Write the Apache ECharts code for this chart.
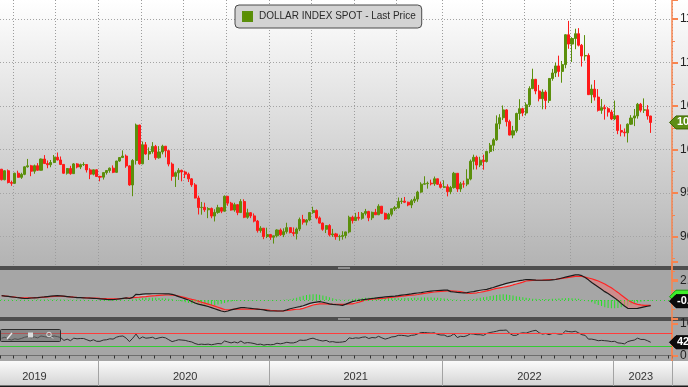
<!DOCTYPE html>
<html><head><meta charset="utf-8">
<style>html,body{margin:0;padding:0;background:#fff;}#c{width:688px;height:387px;}</style>
<script src="https://cdn.jsdelivr.net/npm/echarts/dist/echarts.min.js"></script>
</head><body><div id="c"></div>
<script>
// ---------------- data ----------------
const seriesName = 'DOLLAR INDEX SPOT - Last Price';
const firstWeek = [2019, 5, 7];       // first weekly bar (Fri 7 Jun 2019)
const weeksOnAxis = 205;              // 199 bars + empty weeks to the right edge
const yearLabelDates = ['2019-08-16','2020-07-03','2021-07-02','2022-07-08','2023-03-03'];

const openP = [
97.75,96.54,97.57,96.22,96.13,97.29,96.82,97.16,98.02,98.14,97.52,98.15,97.63,98.92,98.40,98.26,98.52,99.13,98.81,98.30,97.29,97.83,97.24,98.36,98.00,98.27,98.29,97.67,97.18,97.68,
96.92,96.84,97.36,97.60,97.87,97.39,98.69,99.09,99.26,98.13,95.94,98.75,102.82,98.37,100.55,99.50,99.78,100.37,99.06,99.73,100.39,99.87,98.34,96.93,97.34,97.62,97.43,97.18,96.64,95.95,94.44,93.35,93.38,93.09,93.24,92.37,92.79,93.33,92.93,94.64,93.85,93.06,93.68,92.77,94.04,92.23,92.75,92.39,91.79,90.70,90.98,90.02,
90.24,89.94,90.10,90.77,90.23,90.58,91.04,90.48,90.36,90.88,91.98,91.67,91.92,92.77,93.01,92.16,91.56,90.85,91.28,90.22,90.32,90.01,90.03,90.13,90.55,92.23,91.85,92.23,92.12,92.68,92.90,92.17,92.80,92.52,93.50,92.68,92.03,92.58,93.20,93.33,94.04,94.08,93.96,93.64,94.12,94.32,95.12,96.03,96.09,96.14,96.07,96.65,96.02,
95.67,95.73,95.17,95.64,97.28,95.48,96.07,96.04,96.62,98.66,99.12,98.23,98.79,98.63,99.79,100.50,101.12,102.96,103.66,104.56,103.21,101.67,102.16,104.15,104.70,104.20,105.14,107.01,108.07,106.73,105.85,106.61,105.65,108.17,108.80,109.61,108.98,109.76,113.19,112.12,112.76,113.31,111.99,110.75,110.81,106.31,106.95,106.03,104.51,104.82,104.70,104.31,
103.52,103.89,102.20,102.01,101.93,102.92,103.63,103.87,105.21,104.52,104.58,103.86];
const highP = [
97.78,97.61,97.72,96.44,97.34,97.58,97.34,98.07,98.93,98.25,98.28,98.45,98.97,99.37,98.75,98.81,99.38,99.67,99.21,98.33,97.89,98.14,98.45,98.45,98.39,98.55,98.34,97.86,97.71,97.73,
96.99,97.39,97.66,97.94,98.19,98.71,99.13,99.91,99.44,98.20,98.91,102.99,102.86,100.93,100.87,100.25,100.86,100.54,100.40,100.56,100.41,99.97,98.53,97.48,97.87,97.70,97.58,97.36,96.73,96.15,94.71,93.99,93.91,93.39,93.35,93.15,93.66,93.41,94.74,94.65,94.00,93.90,93.74,94.31,94.30,93.21,92.82,92.67,91.92,91.21,91.00,91.03,
90.32,90.11,90.85,90.95,90.96,91.60,91.06,91.06,91.05,92.20,92.51,92.02,92.84,93.44,93.12,92.33,91.63,91.30,91.44,90.90,90.44,90.23,90.63,90.58,92.41,92.41,92.74,92.84,92.83,93.19,92.97,92.88,93.19,93.73,93.50,92.77,92.74,93.22,93.53,94.50,94.45,94.56,94.02,94.31,94.63,95.27,96.25,96.94,96.33,96.55,96.91,96.66,96.33,
96.47,96.02,95.83,97.44,97.30,96.29,96.43,97.74,98.86,99.42,99.31,99.18,99.42,99.87,100.76,101.31,103.93,104.07,105.07,104.65,103.43,102.73,104.24,105.79,104.81,105.42,107.27,109.29,108.12,107.43,106.93,106.81,108.19,109.27,109.99,110.79,110.18,113.24,114.78,112.91,113.88,113.95,112.13,113.15,111.05,107.47,107.99,106.95,105.81,105.15,104.88,104.57,
105.63,103.95,102.90,102.43,103.01,103.96,104.67,105.36,105.36,105.88,105.11,103.88];
const lowP = [
96.46,96.48,96.12,95.84,96.05,96.79,96.64,97.06,97.93,96.95,97.23,97.57,97.60,98.35,97.86,97.98,98.45,98.77,98.23,97.22,97.13,97.12,97.21,97.85,97.76,98.12,97.37,96.61,97.05,96.85,
96.36,96.56,97.13,97.35,97.30,97.36,98.61,99.07,97.91,95.85,94.65,98.28,98.27,98.32,99.41,98.81,99.54,98.83,98.96,99.46,99.11,98.08,96.43,95.71,96.52,96.36,96.73,96.28,95.72,94.40,92.55,92.53,92.85,92.13,92.12,91.75,92.63,92.70,92.88,93.55,92.99,92.87,92.47,92.73,92.13,92.06,92.13,91.65,90.47,90.46,89.72,89.84,
89.63,89.21,89.92,90.09,89.95,90.35,90.38,90.05,89.68,90.64,91.39,91.30,91.78,92.63,92.00,91.50,90.68,90.42,90.03,89.98,89.65,89.53,89.66,89.81,90.39,91.51,91.80,91.86,91.95,92.45,91.78,91.91,92.49,92.48,92.60,91.94,91.99,92.34,92.95,93.23,93.76,93.86,93.50,93.28,93.87,94.01,95.03,95.98,95.52,95.89,95.84,95.95,95.54,
95.58,94.63,94.88,95.52,95.14,95.14,95.62,95.80,96.47,97.71,97.72,97.99,97.69,98.52,99.58,99.82,101.01,102.35,103.39,102.66,101.64,101.30,101.94,103.41,103.83,103.91,104.89,106.94,106.36,105.54,104.63,104.64,105.36,107.91,108.33,108.36,107.68,109.34,111.58,110.06,111.53,111.85,109.54,110.21,106.27,105.34,105.63,104.37,104.11,103.44,103.79,103.39,
103.39,101.77,101.53,101.50,100.82,102.84,102.70,103.56,104.28,104.21,103.44,101.92];
const closeP = [
96.54,97.57,96.22,96.13,97.29,96.82,97.16,98.02,98.14,97.52,98.15,97.63,98.92,98.40,98.26,98.52,99.13,98.81,98.30,97.29,97.83,97.24,98.36,98.00,98.27,98.29,97.67,97.18,97.68,96.92,
96.84,97.36,97.60,97.87,97.39,98.69,99.09,99.26,98.13,95.94,98.75,102.82,98.37,100.55,99.50,99.78,100.37,99.06,99.73,100.39,99.87,98.34,96.93,97.34,97.62,97.43,97.18,96.64,95.95,94.44,93.35,93.38,93.09,93.24,92.37,92.79,93.33,92.93,94.64,93.85,93.06,93.68,92.77,94.04,92.23,92.75,92.39,91.79,90.70,90.98,90.02,90.24,
89.94,90.10,90.77,90.23,90.58,91.04,90.48,90.36,90.88,91.98,91.67,91.92,92.77,93.01,92.16,91.56,90.85,91.28,90.22,90.32,90.01,90.03,90.13,90.55,92.23,91.85,92.23,92.12,92.68,92.90,92.17,92.80,92.52,93.50,92.68,92.03,92.58,93.20,93.33,94.04,94.08,93.96,93.64,94.12,94.32,95.12,96.03,96.09,96.14,96.07,96.65,96.02,95.67,
95.73,95.17,95.64,97.28,95.48,96.07,96.04,96.62,98.66,99.12,98.23,98.79,98.63,99.79,100.50,101.12,102.96,103.66,104.56,103.21,101.67,102.16,104.15,104.70,104.20,105.14,107.01,108.07,106.73,105.85,106.61,105.65,108.17,108.80,109.61,108.98,109.76,113.19,112.12,112.76,113.31,111.99,110.75,110.81,106.31,106.95,106.03,104.51,104.82,104.70,104.31,103.52,
103.89,102.20,102.01,101.93,102.92,103.63,103.87,105.21,104.52,104.58,103.86,103.12];

const macdLine = [
0.57,0.52,0.47,0.42,0.36,0.30, 0.25,0.20,0.22,0.26,0.29,0.32, 0.36,0.40,0.45,0.50,0.55,0.57, 0.55,0.50,0.45,0.40,0.36,0.32,
0.30,0.28,0.26,0.24,0.22,0.20, 0.16,0.12,0.08,0.05,0.04,0.10, 0.16,0.22,0.28,0.20,0.35,0.75, 0.70,0.78,0.80,0.80,0.82,0.82,
0.82,0.82,0.80,0.80,0.75,0.60, 0.45,0.30,0.15,0.00,-0.20,-0.40, -0.55,-0.65,-0.75,-0.85,-1.00,-1.15, -1.30,-1.45,-1.55,-1.45,-1.30,-1.20,
-1.10,-1.00,-1.00,-1.05,-1.10,-1.15, -1.20,-1.25,-1.30,-1.40,-1.45,-1.45, -1.45,-1.45,-1.42,-1.30,-1.15,-1.05, -0.95,-0.88,-0.75,-0.60,-0.45,-0.35,
-0.28,-0.22,-0.30,-0.40,-0.50,-0.57, -0.62,-0.66,-0.70,-0.55,-0.38,-0.22, -0.12,-0.05,0.02,0.09,0.14,0.20, 0.25,0.30,0.35,0.40,0.44,0.48,
0.52,0.57,0.63,0.69,0.75,0.80, 0.86,0.92,0.98,1.05,1.12,1.18, 1.22,1.25,1.27,1.29,1.30,1.10, 1.05,1.00,0.97,0.95,0.98,1.05,
1.10,1.20,1.28,1.35,1.40,1.52, 1.65,1.80,1.93,2.05,2.18,2.28, 2.38,2.47,2.55,2.62,2.70,2.68, 2.65,2.62,2.60,2.60,2.60,2.60,
2.65,2.70,2.80,2.90,3.00,3.10, 3.20,3.30,3.30,3.20,2.95,2.65, 2.30,2.00,1.70,1.40,1.10,0.85, 0.57,0.25,-0.05,-0.44,-0.80,-1.10,
-1.12,-1.12,-1.10,-1.00,-0.90,-0.82,-0.75];
const signalLine = [
0.57,0.53,0.48,0.43,0.38,0.33, 0.30,0.28,0.28,0.29,0.30,0.32, 0.35,0.38,0.42,0.45,0.48,0.50, 0.50,0.48,0.45,0.42,0.38,0.35,
0.33,0.31,0.29,0.27,0.26,0.25, 0.22,0.20,0.17,0.15,0.14,0.15, 0.17,0.20,0.24,0.25,0.30,0.35, 0.38,0.42,0.45,0.50,0.55,0.58,
0.62,0.65,0.66,0.66,0.64,0.60, 0.52,0.42,0.32,0.20,0.08,0.00, -0.15,-0.30,-0.42,-0.55,-0.66,-0.80, -0.95,-1.10,-1.25,-1.28,-1.25,-1.20,
-1.20,-1.20,-1.20,-1.20,-1.20,-1.20, -1.20,-1.22,-1.25,-1.30,-1.35,-1.38, -1.42,-1.45,-1.42,-1.38,-1.32,-1.26, -1.22,-1.20,-1.10,-0.95,-0.80,-0.66,
-0.58,-0.50,-0.50,-0.52,-0.55,-0.57, -0.57,-0.57,-0.57,-0.55,-0.52,-0.50, -0.40,-0.28,-0.15,0.00,0.05,0.10, 0.14,0.18,0.20,0.25,0.30,0.35,
0.40,0.45,0.50,0.55,0.60,0.63, 0.66,0.72,0.80,0.87,0.94,1.00, 1.05,1.10,1.14,1.17,1.20,1.20, 1.18,1.15,1.10,1.00,0.90,0.88,
0.90,0.95,1.02,1.10,1.20,1.30, 1.42,1.52,1.60,1.68,1.76,1.85, 1.98,2.10,2.22,2.35,2.50,2.55, 2.58,2.60,2.60,2.62,2.65,2.68,
2.70,2.73,2.78,2.85,2.90,2.98, 3.05,3.10,3.12,3.10,3.00,2.90, 2.80,2.65,2.50,2.30,2.10,1.85, 1.60,1.30,1.00,0.66,0.33,0.00,
-0.25,-0.45,-0.57,-0.65,-0.70,-0.70,-0.70];
const macdHist = [
0.05,0.04,0.04,0.03,0.03,0.03,0.02,0.02,0.03,0.03,0.04,0.05,0.05,0.06,0.06,0.07,0.07,0.07,0.06,0.05,0.04,0.03,0.02,0.02,0.02,0.02,0.01,0.01,0.01,0.00,-0.02,-0.03,-0.03,-0.02,-0.01,0.00,0.01,0.02,0.03,0.02,0.05,
0.15,0.20,0.25,0.28,0.30,0.30,0.28,0.25,0.22,0.20,0.18,0.14,
0.00,-0.10,-0.20,-0.30,-0.38,-0.45,-0.50,-0.55,-0.60,-0.65,-0.70,-0.70,-0.68,-0.60,-0.50,-0.40,
-0.30,-0.20,-0.12,-0.06,-0.03,-0.02,-0.02,-0.03,-0.03,-0.02,-0.02,-0.02,-0.03,-0.03,-0.02,-0.01,0.00,0.02,0.05,0.10,0.20,
0.30,0.42,0.55,0.65,0.72,0.75,0.75,0.70,0.60,0.48,0.35,0.22,0.12,0.05,0.02,0.02,0.05,
0.10,0.15,0.20,0.25,0.28,0.30,0.32,0.33,0.33,0.32,0.30,0.28,0.26,0.25,0.24,0.24,0.25,0.26,0.27,0.28,0.30,0.32,0.33,0.33,0.32,0.30,0.28,0.25,0.20,0.15,0.10,
0.05,0.02,0.00,-0.02,0.00,0.05,
0.12,0.20,0.28,0.36,0.44,0.52,0.60,0.66,0.72,0.75,0.72,0.66,0.58,0.50,0.42,0.35,0.28,
0.22,0.18,0.15,0.13,0.12,0.12,0.13,0.15,0.18,0.20,0.22,0.24,0.25,0.24,0.20,0.15,0.08,0.00,
-0.15,-0.30,-0.48,-0.65,-0.80,-0.95,-1.05,-1.10,-1.10,-1.05,-0.95,-0.85,-0.72,-0.58,-0.45,-0.32,-0.22,-0.15,-0.10,-0.06];
const rsiLine = [
55,58,52,49,53,51,54,58,60,56,59,56,62,60,58,59,62,60,
57,48,52,47,55,53,54,54,50,46,50,45,
45,49,50,53,52,58,61,62,55,44,55,68,
53,59,55,56,58,53,56,58,56,50,44,47,
50,49,48,45,43,38,35,36,35,36,34,36,
38,37,46,43,40,43,40,46,39,41,40,38,
35,36,33,35,34,35,39,37,39,42,40,40,
43,49,48,49,53,55,51,48,46,48,43,44,
42,42,43,45,56,54,56,55,58,59,54,57,
56,61,56,52,55,59,60,64,64,63,61,64,
65,69,73,73,72,71,72,67,65,65,60,62,
69,57,61,60,63,69,68,66,66,64,70,73,
75,77,80,80,81,70,64,64,70,72,71,75,
78,80,72,68,70,66,70,70,68,68,78,76,
75,77,72,66,64,52,52,50,47,48,47,46,
44,45,40,39,37,44,47,49,55,51,51,47,42];
const rsiLevels = {overbought: 70, oversold: 30};

// ---------------- build ----------------
const dates = [];
for (let i = 0; i < weeksOnAxis; i++) {
  const d = new Date(Date.UTC(firstWeek[0], firstWeek[1], firstWeek[2]) + i * 7 * 86400000);
  dates.push(d.toISOString().slice(0, 10));
}
const dp = s => s.split('-').map(Number);
const isMonthStart = s => dp(s)[2] <= 7;
const isQuarterStart = s => { const p = dp(s); return p[2] <= 7 && (p[1] - 1) % 3 === 0; };
const isYearStart = s => { const p = dp(s); return p[1] === 1 && p[2] <= 7; };

const candles = closeP.map((c, i) => [openP[i], c, lowP[i], highP[i]]);
const pinkGap = macdLine.map((m, i) => Math.max(signalLine[i] - m, 0));
const greyGap = macdLine.map((m, i) => Math.max(m - signalLine[i], 0));

const FONT = 'Liberation Sans, Arial, sans-serif';
const ORANGE = '#f7844f';
const UP = '#5b8f0c', DOWN = '#ff1a1a';

const chart = echarts.init(document.getElementById('c'), null, {renderer: 'canvas'});
const grad = (a, b) => new echarts.graphic.LinearGradient(0, 0, 0, 1, [{offset: 0, color: a}, {offset: 1, color: b}]);

const axisY = (extra) => Object.assign({
  type: 'value', position: 'right',
  axisLine: {show: true, lineStyle: {color: ORANGE, width: 1.5}},
  axisTick: {show: true, length: 6, lineStyle: {color: ORANGE, width: 2}},
  minorTick: {show: true, splitNumber: 2, length: 3, lineStyle: {color: ORANGE, width: 1}},
  axisLabel: {color: '#222', fontSize: 12, fontFamily: FONT, margin: 8},
  splitLine: {show: false}
}, extra);

const hiddenX = (gi) => ({type: 'category', gridIndex: gi, data: dates, boundaryGap: true, show: false});
const G = (top, height) => ({left: 0, width: 672, top: top, height: height, outerBoundsMode: 'none', containLabel: false});

const option = {
  animation: false,
  backgroundColor: '#ffffff',
  textStyle: {fontFamily: FONT},
  grid: [
    G(0, 280.24),     // price scale 85..117.18
    G(0, 266),        // vertical gridlines of price panel
    G(262, 57),       // MACD scale -2.5..5
    G(324, 31.5),     // RSI 0..100
    G(361, 25)        // year labels strip
  ],
  legend: {
    data: [{name: seriesName, icon: 'rect', itemStyle: {color: '#5a8f00'}}],
    left: 235, top: 5, itemWidth: 9, itemHeight: 9, itemGap: 0,
    padding: [6, 6, 6, 7], borderColor: '#4a4a4a', borderWidth: 1, borderRadius: 4,
    backgroundColor: '#d3d3d3', selectedMode: false,
    textStyle: {fontSize: 10, color: '#2a2a2a', fontFamily: FONT, padding: [0, 0, 0, 2]}
  },
  xAxis: [
    hiddenX(0),
    {type: 'category', gridIndex: 1, data: dates, boundaryGap: true,
     axisLine: {show: false}, axisTick: {show: false}, axisLabel: {show: false},
     splitLine: {show: true, interval: (i, v) => isQuarterStart(v), lineStyle: {color: '#9c9c9c', type: [1, 2], width: 1}}},
    hiddenX(2),
    {type: 'category', gridIndex: 3, data: dates, boundaryGap: true,
     axisLine: {show: true, lineStyle: {color: '#6e6e6e'}},
     axisTick: {show: true, interval: (i, v) => isMonthStart(v), length: 3, lineStyle: {color: '#333'}},
     axisLabel: {show: false}, splitLine: {show: false}},
    {type: 'category', gridIndex: 4, data: dates, boundaryGap: true,
     axisLine: {show: false}, axisTick: {show: false},
     axisLabel: {show: true, inside: true, margin: 4, color: '#333', fontSize: 11, fontFamily: FONT,
       interval: (i, v) => yearLabelDates.includes(v), formatter: v => v.slice(0, 4)},
     splitLine: {show: true, interval: (i, v) => isYearStart(v), lineStyle: {color: '#a3a3a3', width: 1}}}
  ],
  yAxis: [
    axisY({gridIndex: 0, min: 85, max: 117.18, interval: 5,
      axisLabel: {color: '#222', fontSize: 12, fontFamily: FONT, margin: 8, showMinLabel: false, showMaxLabel: false},
      splitLine: {show: true, showMinLine: false, showMaxLine: false, lineStyle: {color: '#a4a4a4', type: [1, 2]}}}),
    {type: 'value', gridIndex: 1, show: false, min: 0, max: 1},
    axisY({gridIndex: 2, min: -2.5, max: 5, interval: 2.5,
      axisLabel: {color: '#222', fontSize: 12, fontFamily: FONT, margin: 8, formatter: v => (v === 2.5 ? '2.5' : '')}}),
    axisY({gridIndex: 3, min: 0, max: 100, interval: 50, minorTick: {show: false},
      axisLabel: {color: '#222', fontSize: 12, fontFamily: FONT, margin: 8, formatter: v => (v === 50 ? '' : String(v))}}),
    {type: 'value', gridIndex: 4, show: false, min: 0, max: 1}
  ],
  series: [
    {name: seriesName, type: 'candlestick', xAxisIndex: 0, yAxisIndex: 0, data: candles, barWidth: '78%',
     itemStyle: {color: UP, color0: DOWN, borderColor: UP, borderColor0: DOWN, borderWidth: 1}},
    {type: 'line', xAxisIndex: 2, yAxisIndex: 2, data: macdLine, stack: 'pink', stackStrategy: 'all',
     symbol: 'none', silent: true, lineStyle: {width: 0, opacity: 0}},
    {type: 'line', xAxisIndex: 2, yAxisIndex: 2, data: pinkGap, stack: 'pink', stackStrategy: 'all',
     symbol: 'none', silent: true, lineStyle: {width: 0, opacity: 0}, areaStyle: {color: 'rgba(236,120,120,0.8)'}},
    {type: 'line', xAxisIndex: 2, yAxisIndex: 2, data: signalLine, stack: 'grey', stackStrategy: 'all',
     symbol: 'none', silent: true, lineStyle: {width: 0, opacity: 0}},
    {type: 'line', xAxisIndex: 2, yAxisIndex: 2, data: greyGap, stack: 'grey', stackStrategy: 'all',
     symbol: 'none', silent: true, lineStyle: {width: 0, opacity: 0}, areaStyle: {color: 'rgba(215,215,215,0.8)'}},
    {type: 'bar', xAxisIndex: 2, yAxisIndex: 2, data: macdHist, barWidth: 1, silent: true,
     itemStyle: {color: '#27e027'},
     markLine: {silent: true, symbol: 'none', label: {show: false},
       lineStyle: {color: '#2fd42f', type: [1, 3], width: 1}, data: [{yAxis: 0}]}},
    {type: 'line', xAxisIndex: 2, yAxisIndex: 2, data: signalLine, symbol: 'none', silent: true,
     lineStyle: {color: '#ff2323', width: 1.2}},
    {type: 'line', xAxisIndex: 2, yAxisIndex: 2, data: macdLine, symbol: 'none', silent: true,
     lineStyle: {color: '#1c1c1c', width: 1.2}},
    {type: 'line', xAxisIndex: 3, yAxisIndex: 3, data: rsiLine, symbol: 'none', silent: true,
     lineStyle: {color: '#2e2e2e', width: 1},
     markLine: {silent: true, symbol: 'none', label: {show: false},
       data: [{yAxis: rsiLevels.overbought, lineStyle: {color: '#ff3b3b', type: 'solid', width: 1}},
              {yAxis: rsiLevels.oversold, lineStyle: {color: '#33cc33', type: 'solid', width: 1}}]}}
  ],
  graphic: {elements: [
    {id: 'bgMain', type: 'rect', z: -10, silent: true, shape: {x: 0, y: 0, width: 688, height: 266}, style: {fill: grad('#ffffff', '#b3b3b3')}},
    {id: 'sep1', type: 'rect', z: -10, silent: true, shape: {x: 0, y: 266, width: 688, height: 4}, style: {fill: '#4e4e4e'}},
    {id: 'sep1h', type: 'rect', z: -9, silent: true, shape: {x: 338, y: 267, width: 12, height: 2}, style: {fill: '#8e8e8e'}},
    {id: 'bgMacd', type: 'rect', z: -10, silent: true, shape: {x: 0, y: 270, width: 688, height: 47}, style: {fill: '#a6a6a6'}},
    {id: 'sep2', type: 'rect', z: -10, silent: true, shape: {x: 0, y: 317, width: 688, height: 4}, style: {fill: '#4e4e4e'}},
    {id: 'sep2h', type: 'rect', z: -9, silent: true, shape: {x: 338, y: 318, width: 12, height: 2}, style: {fill: '#8e8e8e'}},
    {id: 'bgRsi', type: 'rect', z: -10, silent: true, shape: {x: 0, y: 321, width: 688, height: 40}, style: {fill: '#a6a6a6'}},
    {id: 'bgDates', type: 'rect', z: -10, silent: true, shape: {x: 0, y: 361, width: 688, height: 25}, style: {fill: grad('#fbfbfb', '#d3d3d3')}},
    {id: 'bottomLine', type: 'rect', z: -9, silent: true, shape: {x: 0, y: 385.5, width: 688, height: 1.5}, style: {fill: '#1a1a1a'}},
    {id: 'axisGap', type: 'line', z: 1, silent: true, shape: {x1: 672, y1: 318, x2: 672, y2: 361}, style: {stroke: ORANGE, lineWidth: 1.5}},
    {id: 'tb', type: 'rect', z: 20, silent: true, shape: {x: 0.5, y: 329.5, width: 60, height: 12, r: 1}, style: {fill: 'rgba(110,110,110,0.55)', stroke: '#2e2e2e', lineWidth: 1}},
    {id: 'tb1', type: 'line', z: 21, silent: true, shape: {x1: 7, y1: 339, x2: 12, y2: 333}, style: {stroke: '#e6e6e6', lineWidth: 1.5}},
    {id: 'tb2', type: 'rect', z: 21, silent: true, shape: {x: 28, y: 332.5, width: 5, height: 5}, style: {fill: '#dcdcdc'}},
    {id: 'tb3', type: 'circle', z: 21, silent: true, shape: {cx: 49, cy: 334.5, r: 2.3}, style: {fill: 'none', stroke: '#e0e0e0', lineWidth: 1}},
    {id: 'tb4', type: 'line', z: 21, silent: true, shape: {x1: 50.8, y1: 336.3, x2: 53, y2: 338.5}, style: {stroke: '#e0e0e0', lineWidth: 1}}
  ]}
};
chart.setOption(option);

// value tags on the right axis, placed through the axes' own scales
const last = closeP.length - 1;
function tag(id, yC, fill, stroke, text, color) {
  return [
    {id: id + 'p', type: 'polygon', z: 30, silent: true,
     shape: {points: [[669.5, yC], [676, yC - 6.5], [700, yC - 6.5], [700, yC + 6.5], [676, yC + 6.5]]},
     style: {fill: fill, stroke: stroke, lineWidth: 1}},
    {id: id + 't', type: 'text', z: 31, silent: true, x: 677, y: yC,
     style: {text: text, fill: color, font: 'bold 11px ' + FONT, verticalAlign: 'middle', textVerticalAlign: 'middle'}}
  ];
}
const yPrice = chart.convertToPixel({yAxisIndex: 0}, closeP[last]);
const yMacd = chart.convertToPixel({yAxisIndex: 2}, macdLine[last]);
const yRsi = chart.convertToPixel({yAxisIndex: 3}, rsiLine[last]);
const tags = [].concat(
  tag('tagP', yPrice, '#5d8e16', '#3c6500', closeP[last].toFixed(2), '#ffffff'),
  tag('tagH', yMacd - 9, '#3ef02a', '#1f9a10', '', '#000'),
  tag('tagM', yMacd - 4.5, '#0c0c0c', '#000', macdLine[last].toFixed(2), '#ffffff'),
  tag('tagR', yRsi, '#0c0c0c', '#000', rsiLine[last].toFixed(2), '#ffffff')
);
chart.setOption({graphic: {elements: tags}});
</script>
</body></html>
